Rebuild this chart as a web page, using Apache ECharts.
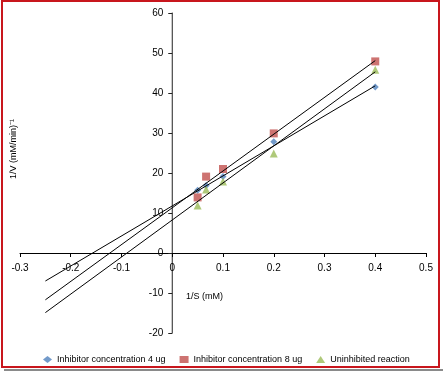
<!DOCTYPE html>
<html><head><meta charset="utf-8">
<script src="https://cdn.jsdelivr.net/npm/echarts@6/dist/echarts.min.js"></script>
<style>html,body{margin:0;padding:0;background:#fff}#c{width:443px;height:372px}</style>
</head><body><div id="c"></div>
<script>
const xValues = [0.05, 0.0667, 0.1, 0.2, 0.4];
const inhib4 = [15.7, 16.9, 19.1, 27.8, 41.5];
const inhib8 = [13.9, 19.1, 21.0, 29.9, 47.9];
const uninhib = [11.9, 15.9, 17.9, 24.9, 45.8];
const trendX = [-0.25, 0.4];
const trend4 = [-7.0, 41.8];
const trend8 = [-11.7, 48.1];
const trendU = [-14.9, 45.3];
const names = ['Inhibitor concentration 4 ug', 'Inhibitor concentration 8 ug', 'Uninhibited reaction'];
const colors = ['#4F81BD', '#C0504D', '#9BBB59'];

const pts = ys => xValues.map((x, i) => [x, ys[i]]);
const tr = ys => trendX.map((x, i) => [x, ys[i]]);
const font = 'Liberation Sans, Arial, sans-serif';

const W = 443, H = 372;
const gridLeft = 20, gridRight = 17, gridTop = 13, gridBottom = 39;
const xMin = -0.3, xMax = 0.5, yMin = -20, yMax = 60;
const yAxisOffset = -(0 - xMin) / (xMax - xMin) * (W - gridLeft - gridRight);
const xAxisOffset = -(0 - yMin) / (yMax - yMin) * (H - gridTop - gridBottom);

const chart = echarts.init(document.getElementById('c'));
chart.setOption({
  animation: false,
  backgroundColor: '#fff',
  grid: { left: gridLeft, right: gridRight, top: gridTop, bottom: gridBottom },
  xAxis: {
    type: 'value', min: xMin, max: xMax, interval: 0.1, position: 'bottom', offset: xAxisOffset,
    axisLine: { onZero: false, lineStyle: { color: '#000', width: 1 } },
    axisTick: { show: true, length: 4, lineStyle: { color: '#000' } },
    axisLabel: { color: '#000', fontSize: 10, fontFamily: font, margin: 10 },
    splitLine: { show: false }
  },
  yAxis: {
    type: 'value', min: yMin, max: yMax, interval: 10, position: 'left', offset: yAxisOffset,
    axisLine: { onZero: false, lineStyle: { color: '#222', width: 1 } },
    axisTick: { show: true, length: 4, lineStyle: { color: '#222' } },
    axisLabel: { color: '#000', fontSize: 10, fontFamily: font, margin: 9 },
    splitLine: { show: false }
  },
  legend: {
    data: [
      { name: names[0], icon: 'diamond' },
      { name: names[1], icon: 'rect' },
      { name: names[2], icon: 'triangle' }
    ],
    left: 38, top: 350, itemWidth: 9, itemHeight: 7, itemGap: 14,
    textStyle: { color: '#000', fontSize: 9, fontFamily: font }
  },
  graphic: [
    { type: 'rect', shape: { x: 2, y: 1, width: 437, height: 366 }, style: { fill: 'none', stroke: '#C8161D', lineWidth: 2 }, z: 100 },
    { type: 'line', shape: { x1: 4, y1: 370, x2: 443, y2: 370 }, style: { stroke: '#8a8a8a', lineWidth: 2 } },
    { type: 'text', left: 186, top: 292, style: { text: '1/S (mM)', fontSize: 9, fontFamily: font, fill: '#000' } },
    { type: 'text', x: 9, y: 179, rotation: Math.PI / 2, style: { text: '1/V (mM/min)⁻¹', fontSize: 9, fontFamily: font, fill: '#000' } }
  ],
  series: [
    { name: names[0], type: 'scatter', symbol: 'diamond', symbolSize: 7, itemStyle: { color: colors[0] }, data: pts(inhib4), z: 2 },
    { name: names[1], type: 'scatter', symbol: 'rect', symbolSize: 8, itemStyle: { color: colors[1] }, data: pts(inhib8), z: 2 },
    { name: names[2], type: 'scatter', symbol: 'triangle', symbolSize: 8, itemStyle: { color: colors[2] }, data: pts(uninhib), z: 2 },
    { type: 'line', data: tr(trend4), symbol: 'none', silent: true, lineStyle: { color: '#000', width: 1 }, z: 3 },
    { type: 'line', data: tr(trend8), symbol: 'none', silent: true, lineStyle: { color: '#000', width: 1 }, z: 3 },
    { type: 'line', data: tr(trendU), symbol: 'none', silent: true, lineStyle: { color: '#000', width: 1 }, z: 3 }
  ]
});
</script></body></html>
